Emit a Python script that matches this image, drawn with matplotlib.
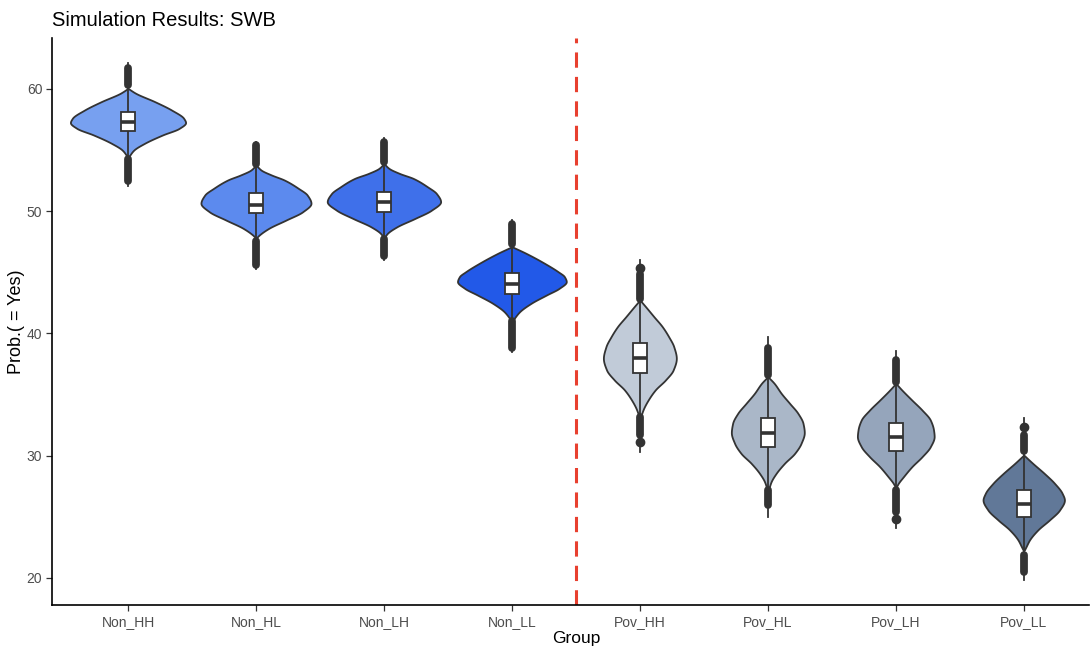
import numpy as np
import matplotlib
matplotlib.use("Agg")
import matplotlib.pyplot as plt

plt.rcParams['font.family'] = ['Liberation Sans', 'DejaVu Sans']

# groups and colours
groups = ['Non_HH', 'Non_HL', 'Non_LH', 'Non_LL', 'Pov_HH', 'Pov_HL', 'Pov_LH', 'Pov_LL']
colors = ['#77A0F0', '#5C8AEE', '#3F70EA', '#2259E8', '#C1CBD8', '#AAB7C8', '#95A5BB', '#617898']

# box stats
medians = [57.33, 50.50, 50.73, 44.05, 37.97, 31.89, 31.57, 26.03]
q1 = [56.56, 49.83, 49.92, 43.23, 36.74, 30.69, 30.42, 24.97]
q3 = [58.10, 51.52, 51.55, 44.92, 39.20, 33.11, 32.71, 27.20]
whisk_lo = [54.30, 47.60, 47.70, 41.00, 33.20, 27.20, 27.20, 21.90]
whisk_hi = [60.30, 53.90, 54.00, 47.30, 42.80, 36.60, 36.00, 30.40]
# dense outlier runs (end values)
out_lo = [52.50, 45.60, 46.30, 38.85, 31.70, 26.00, 25.40, 20.50]
out_hi = [61.70, 55.40, 55.65, 48.95, 44.90, 38.80, 37.80, 31.70]
# single outliers standing apart
stray = [[], [], [], [], [45.33, 31.15], [], [24.80], [32.38]]
# violin tails (data range)
vmin = [52.10, 45.30, 46.00, 38.50, 30.33, 25.02, 24.06, 19.84]
vmax = [62.10, 55.70, 56.00, 49.30, 46.00, 39.69, 38.59, 33.06]

# violin body profiles: value and half width (x units), top to bottom
prof_y = [
    [60.05, 59.65, 58.96, 58.28, 57.60, 57.25, 56.78, 56.24, 55.56, 55.00, 54.46],
    [53.78, 53.37, 52.97, 52.56, 51.88, 51.33, 50.65, 49.96, 49.28, 48.60, 48.06, 47.79],
    [53.90, 53.50, 53.10, 52.68, 52.00, 51.45, 50.78, 50.08, 49.40, 48.72, 48.18, 47.79],
    [47.10, 46.56, 45.74, 45.06, 44.65, 44.24, 43.70, 43.15, 42.47, 41.78, 41.10],
    [42.74, 42.19, 41.37, 40.56, 39.74, 38.92, 37.97, 37.01, 36.20, 35.38, 34.56, 33.88, 33.33],
    [36.47, 35.92, 35.10, 34.29, 33.47, 32.65, 31.89, 31.02, 30.20, 29.38, 28.56, 27.88, 27.33],
    [35.92, 35.38, 34.56, 33.74, 32.92, 32.11, 31.57, 30.74, 29.92, 29.10, 28.29, 27.75, 27.47],
    [30.06, 29.38, 28.56, 27.75, 26.93, 26.38, 25.56, 24.74, 23.93, 23.11, 22.56, 22.29],
]
prof_w = [
    [0.00, 0.06, 0.21, 0.34, 0.435, 0.45, 0.40, 0.27, 0.13, 0.045, 0.005],
    [0.00, 0.04, 0.12, 0.22, 0.33, 0.40, 0.43, 0.365, 0.235, 0.10, 0.026, 0.00],
    [0.00, 0.04, 0.12, 0.23, 0.34, 0.41, 0.443, 0.37, 0.24, 0.10, 0.026, 0.00],
    [0.00, 0.11, 0.255, 0.36, 0.41, 0.425, 0.37, 0.27, 0.15, 0.06, 0.008],
    [0.00, 0.045, 0.11, 0.175, 0.225, 0.265, 0.285, 0.26, 0.20, 0.12, 0.065, 0.03, 0.01],
    [0.00, 0.05, 0.105, 0.17, 0.235, 0.275, 0.285, 0.26, 0.21, 0.13, 0.065, 0.026, 0.008],
    [0.00, 0.047, 0.125, 0.205, 0.27, 0.295, 0.30, 0.27, 0.205, 0.125, 0.06, 0.02, 0.005],
    [0.00, 0.07, 0.16, 0.24, 0.30, 0.318, 0.28, 0.20, 0.11, 0.045, 0.018, 0.005],
]

EDGE = '#333333'


def pchip_slopes(x, y):
    # monotone slopes so the outline does not overshoot between points
    h = np.diff(x)
    d = np.diff(y) / h
    m = np.zeros_like(y)
    for j in range(1, len(y) - 1):
        if d[j - 1] * d[j] > 0:
            w1 = 2 * h[j] + h[j - 1]
            w2 = h[j] + 2 * h[j - 1]
            m[j] = (w1 + w2) / (w1 / d[j - 1] + w2 / d[j])
    m[0] = d[0]
    m[-1] = d[-1]
    return m


def smooth(ys, ws, n=300):
    ys = np.asarray(ys)[::-1]
    ws = np.asarray(ws)[::-1]
    m = pchip_slopes(ys, ws)
    t = np.linspace(ys[0], ys[-1], n)
    i = np.clip(np.searchsorted(ys, t) - 1, 0, len(ys) - 2)
    h = ys[i + 1] - ys[i]
    s = (t - ys[i]) / h
    w = ((2 * s**3 - 3 * s**2 + 1) * ws[i] + (s**3 - 2 * s**2 + s) * h * m[i]
         + (-2 * s**3 + 3 * s**2) * ws[i + 1] + (s**3 - s**2) * h * m[i + 1])
    return t, np.clip(w, 0, None)


fig = plt.figure(figsize=(10.91, 6.5), dpi=100)
ax = fig.add_axes([52 / 1091, 45 / 650, 1037 / 1091, 567 / 650])

for k, g in enumerate(groups):
    x = k + 1
    t, w = smooth(prof_y[k], prof_w[k])
    ax.fill_betweenx(t, x - w, x + w, facecolor=colors[k], edgecolor=EDGE,
                     linewidth=1.3, zorder=2)
    # tail line + whisker line
    ax.plot([x, x], [vmin[k], vmax[k]], color=EDGE, lw=1.3, zorder=3)
    # outlier runs
    for a, b in [(whisk_hi[k], out_hi[k]), (whisk_lo[k], out_lo[k])]:
        ax.plot([x, x], [a, b], color=EDGE, lw=5.6, solid_capstyle='round', zorder=4)
    if stray[k]:
        ax.plot([x] * len(stray[k]), stray[k], 'o', color=EDGE, ms=6, zorder=4)
    # box
    bw = 0.055
    ax.fill([x - bw, x + bw, x + bw, x - bw], [q1[k], q1[k], q3[k], q3[k]],
            facecolor='white', edgecolor=EDGE, linewidth=1.3, zorder=5)
    ax.plot([x - bw, x + bw], [medians[k], medians[k]], color=EDGE, lw=2.6,
            solid_capstyle='butt', zorder=6)

ax.axvline(4.5, color='#E8402F', lw=2.2, ls=(0, (5, 3)), zorder=1)

ax.set_xlim(0.406, 8.51)
ax.set_ylim(17.79, 64.17)
ax.set_xticks(range(1, len(groups) + 1))
ax.set_xticklabels(groups)
ax.set_yticks([20, 30, 40, 50, 60])
for side in ['top', 'right']:
    ax.spines[side].set_visible(False)
for side in ['left', 'bottom']:
    ax.spines[side].set_linewidth(1.2)
    ax.spines[side].set_color('black')
ax.tick_params(axis='both', length=4, width=0.9, color='#333333',
               labelsize=10, labelcolor='#4D4D4D', pad=3)

ax.set_xlabel('Group', fontsize=12.5)
ax.xaxis.set_label_coords(0.506, -0.046)
ax.set_ylabel('Prob.( = Yes)', fontsize=13)
ax.yaxis.set_label_coords(-0.026, 0.5)
fig.text(52 / 1091, 1 - 26 / 650, 'Simulation Results: SWB', fontsize=14.5,
         ha='left', va='baseline')

fig.savefig('out.png', dpi=100)
